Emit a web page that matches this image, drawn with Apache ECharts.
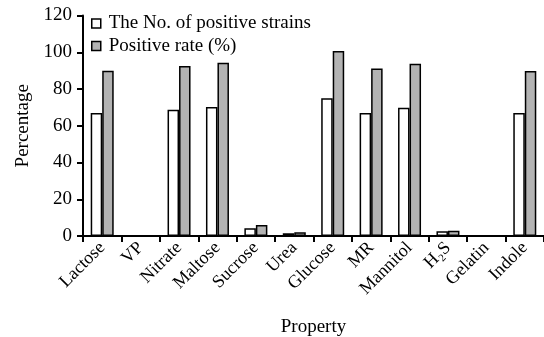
<!DOCTYPE html>
<html>
<head>
<meta charset="utf-8">
<script src="https://cdn.jsdelivr.net/npm/echarts@6/dist/echarts.min.js"></script>
<style>html,body{margin:0;padding:0;background:#fff;}#c{width:544px;height:337px;}</style>
</head>
<body>
<div id="c"></div>
<script>
var categories = ['Lactose','VP','Nitrate','Maltose','Sucrose','Urea','Glucose','MR','Mannitol','H\u2082S','Gelatin','Indole'];
var strains = [67, 0, 68.7, 70.2, 4.2, 1.5, 74.9, 66.9, 69.8, 2.6, 0, 66.9];
var rate = [90, 0, 92.5, 94.3, 6, 2, 100.7, 91.1, 93.8, 2.9, 0, 89.8];
var yTicks = [0, 20, 40, 60, 80, 100, 120];
var seriesNames = ['The No. of positive strains', 'Positive rate (%)'];

var font = '"Liberation Serif", "Times New Roman", serif';
var chart = echarts.init(document.getElementById('c'), null, {renderer: 'canvas'});
chart.setOption({
  animation: false,
  backgroundColor: '#fff',
  textStyle: {fontFamily: font, color: '#000'},
  grid: {left: 83, top: 15.5, bottom: 101, right: 0, containLabel: false, outerBoundsMode: 'none'},
  legend: {
    orient: 'vertical', left: 86, top: 9,
    icon: 'rect', itemWidth: 9, itemHeight: 9, itemGap: 3.6,
    textStyle: {fontFamily: font, fontSize: 19, color: '#000', lineHeight: 19, padding: [0, 0, 0, 3]},
    data: [
      {name: seriesNames[0], itemStyle: {color: '#fff', borderColor: '#000', borderWidth: 1.5}},
      {name: seriesNames[1], itemStyle: {color: '#b3b3b3', borderColor: '#000', borderWidth: 1.5}}
    ]
  },
  xAxis: {
    type: 'category', data: categories,
    name: 'Property', nameLocation: 'middle', nameGap: 82,
    nameTextStyle: {fontFamily: font, fontSize: 19, color: '#000'},
    axisLine: {lineStyle: {color: '#000', width: 2}},
    axisTick: {show: true, length: 6, lineStyle: {color: '#000', width: 2}},
    axisLabel: {rotate: 45, fontFamily: font, fontSize: 18, color: '#000', margin: 9, interval: 0},
    splitLine: {show: false}
  },
  yAxis: {
    type: 'value', min: yTicks[0], max: yTicks[yTicks.length-1], interval: 20,
    name: 'Percentage', nameLocation: 'middle', nameGap: 50,
    nameTextStyle: {fontFamily: font, fontSize: 19, color: '#000'},
    axisLine: {show: true, lineStyle: {color: '#000', width: 2}},
    axisTick: {show: true, length: 6, lineStyle: {color: '#000', width: 2}},
    axisLabel: {fontFamily: font, fontSize: 19, color: '#000', margin: 11},
    splitLine: {show: false}
  },
  series: [
    {name: seriesNames[0], type: 'bar', data: strains, barWidth: 11.5, barGap: '0%',
     itemStyle: {color: '#fff', borderColor: '#000', borderWidth: 1.5}},
    {name: seriesNames[1], type: 'bar', data: rate, barWidth: 11.5, barGap: '0%',
     itemStyle: {color: '#b3b3b3', borderColor: '#000', borderWidth: 1.5}}
  ]
});
</script>
</body>
</html>
